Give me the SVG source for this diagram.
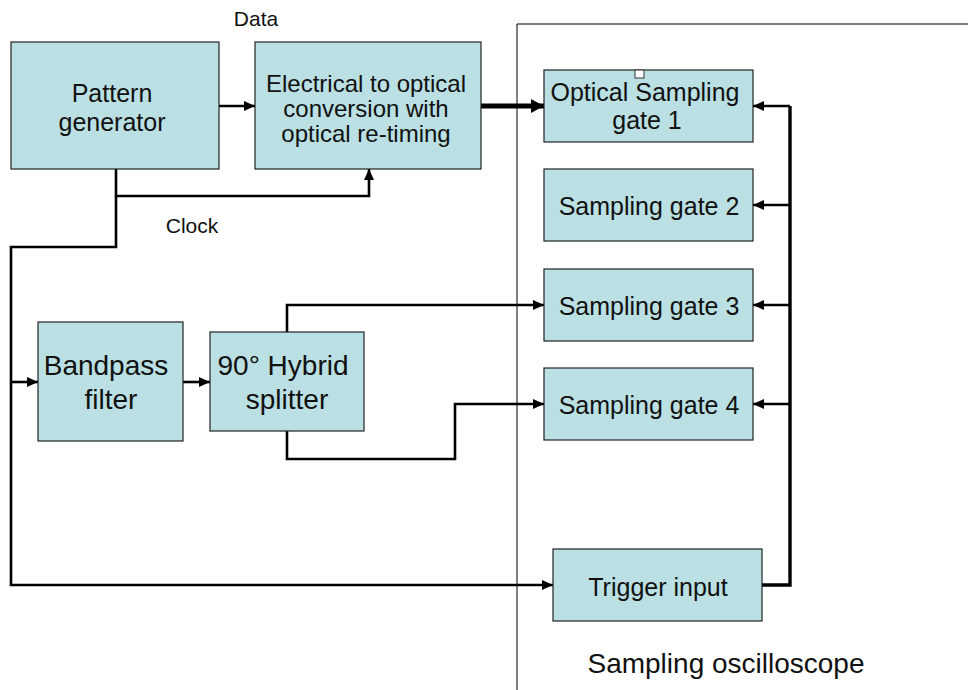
<svg xmlns="http://www.w3.org/2000/svg" width="968" height="690" viewBox="0 0 968 690">
<style>
.box{fill:#bae0e3;stroke:#222;stroke-width:1.2}
.t{font-family:"Liberation Sans",Arial,sans-serif;fill:#111;text-anchor:middle}
.c{fill:none;stroke:#000;stroke-width:2.6}
</style>
<defs>
<marker id="ah" markerUnits="userSpaceOnUse" markerWidth="12" markerHeight="10" refX="11" refY="5" orient="auto">
<path d="M0,0 L11,5 L0,10 Z" fill="#000"/>
</marker>
<marker id="ahb" markerUnits="userSpaceOnUse" markerWidth="14" markerHeight="14" refX="13" refY="7" orient="auto">
<path d="M0,0 L13,7 L0,14 Z" fill="#000"/>
</marker>
</defs>
<rect width="968" height="690" fill="#fff"/>
<g id="oscilloscope">
<path d="M517,690 V24 H968" fill="none" stroke="#000" stroke-width="1"/>
<text class="t" x="726" y="673" font-size="28">Sampling oscilloscope</text>
</g>
<g id="connectors">
<path class="c" d="M219,106 H255" marker-end="url(#ah)"/>
<path class="c" d="M116,169 V196 H369 V169" marker-end="url(#ah)"/>
<path class="c" d="M116,196 V247 H11 V585 H553" marker-end="url(#ah)"/>
<path class="c" d="M11,382 H38" marker-end="url(#ah)"/>
<path class="c" d="M183,382 H210" marker-end="url(#ah)"/>
<path class="c" d="M287,332 V305 H544" marker-end="url(#ah)"/>
<path class="c" d="M287,431 V459 H455 V404 H544" marker-end="url(#ah)"/>
<path d="M481,106 H544" fill="none" stroke="#000" stroke-width="5" marker-end="url(#ahb)"/>
<path d="M762,585 H790 V106" fill="none" stroke="#000" stroke-width="3.4"/>
<path class="c" d="M790,106 H753" marker-end="url(#ah)"/>
<path class="c" d="M790,205 H753" marker-end="url(#ah)"/>
<path class="c" d="M790,305 H753" marker-end="url(#ah)"/>
<path class="c" d="M790,404 H753" marker-end="url(#ah)"/>
<text class="t" x="256" y="26" font-size="21">Data</text>
<text class="t" x="192" y="233" font-size="21">Clock</text>
</g>
<g id="pattern">
<rect class="box" x="11" y="42" width="208" height="127"/>
<text class="t" x="112" y="102" font-size="25">Pattern</text>
<text class="t" x="112" y="131" font-size="25">generator</text>
</g>
<g id="eo">
<rect class="box" x="255" y="42" width="226" height="127"/>
<text class="t" x="366" y="92" font-size="24">Electrical to optical</text>
<text class="t" x="366" y="117" font-size="24">conversion with</text>
<text class="t" x="366" y="142" font-size="24">optical re-timing</text>
</g>
<g id="bandpass">
<rect class="box" x="38" y="322" width="145" height="119"/>
<text class="t" x="106" y="375" font-size="28">Bandpass</text>
<text class="t" x="111" y="409" font-size="28">filter</text>
</g>
<g id="hybrid">
<rect class="box" x="210" y="332" width="154" height="99"/>
<text class="t" x="283" y="375" font-size="28">90° Hybrid</text>
<text class="t" x="287" y="409" font-size="28">splitter</text>
</g>
<g id="gate1">
<rect class="box" x="544" y="70" width="209" height="72"/>
<text class="t" x="645" y="101" font-size="25">Optical Sampling</text>
<text class="t" x="647" y="129" font-size="25">gate 1</text>
<rect x="635" y="70" width="9" height="8" fill="#fff" stroke="#333" stroke-width="1"/>
</g>
<g id="gate2">
<rect class="box" x="544" y="169" width="209" height="72"/>
<text class="t" x="649" y="215" font-size="25">Sampling gate 2</text>
</g>
<g id="gate3">
<rect class="box" x="544" y="269" width="209" height="72"/>
<text class="t" x="649" y="315" font-size="25">Sampling gate 3</text>
</g>
<g id="gate4">
<rect class="box" x="544" y="368" width="209" height="72"/>
<text class="t" x="649" y="414" font-size="25">Sampling gate 4</text>
</g>
<g id="trigger">
<rect class="box" x="553" y="549" width="209" height="72"/>
<text class="t" x="658" y="596" font-size="25">Trigger input</text>
</g>
</svg>
